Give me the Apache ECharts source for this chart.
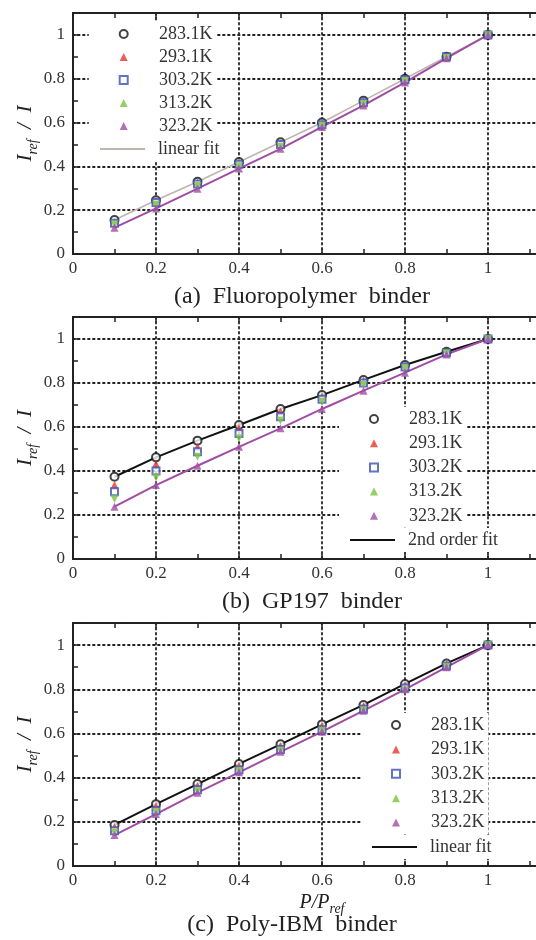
<!DOCTYPE html>
<html><head><meta charset="utf-8">
<script src="https://cdn.jsdelivr.net/npm/echarts@6/dist/echarts.min.js"></script>
<style>html,body{margin:0;padding:0;background:#fff}#c{width:536px;height:940px}</style>
</head><body><div id="c"></div>
<script>
// ---- data ----
const pressureRatio = [0.1, 0.2, 0.3, 0.4, 0.5, 0.6, 0.7, 0.8, 0.9, 1.0];
const tempLabels = ['283.1K', '293.1K', '303.2K', '313.2K', '323.2K'];
const xTicks = [0, 0.2, 0.4, 0.6, 0.8, 1];
const yTicks = [0, 0.2, 0.4, 0.6, 0.8, 1];

// (a) Fluoropolymer binder
const a283 = [0.155, 0.245, 0.330, 0.420, 0.510, 0.600, 0.700, 0.800, 0.900, 1.0];
const a293 = [0.145, 0.240, 0.325, 0.415, 0.505, 0.595, 0.695, 0.795, 0.900, 1.0];
const a303 = [0.140, 0.235, 0.320, 0.410, 0.500, 0.590, 0.690, 0.795, 0.900, 1.0];
const a313 = [0.135, 0.225, 0.310, 0.400, 0.490, 0.585, 0.685, 0.790, 0.895, 1.0];
const a323 = [0.120, 0.208, 0.298, 0.390, 0.480, 0.580, 0.678, 0.783, 0.894, 1.0];
const aFitUpper = [0.155, 0.245, 0.330, 0.420, 0.510, 0.600, 0.700, 0.800, 0.900, 1.0];
const aFitLower = [0.120, 0.208, 0.298, 0.390, 0.480, 0.580, 0.678, 0.783, 0.894, 1.0];

// (b) GP197 binder
const b283 = [0.374, 0.462, 0.538, 0.609, 0.682, 0.745, 0.814, 0.882, 0.942, 1.0];
const b293 = [0.336, 0.432, 0.510, 0.594, 0.670, 0.738, 0.810, 0.877, 0.940, 1.0];
const b303 = [0.306, 0.400, 0.488, 0.571, 0.647, 0.726, 0.800, 0.873, 0.938, 1.0];
const b313 = [0.273, 0.371, 0.465, 0.549, 0.629, 0.715, 0.791, 0.866, 0.935, 1.0];
const b323 = [0.238, 0.336, 0.424, 0.510, 0.594, 0.682, 0.765, 0.847, 0.930, 1.0];
const bFitUpper = [0.374, 0.462, 0.538, 0.609, 0.682, 0.745, 0.814, 0.882, 0.942, 1.0];
const bFitLower = [0.238, 0.336, 0.424, 0.510, 0.594, 0.682, 0.765, 0.847, 0.930, 1.0];

// (c) Poly-IBM binder
const c283 = [0.186, 0.280, 0.371, 0.462, 0.551, 0.641, 0.729, 0.824, 0.917, 1.0];
const c293 = [0.176, 0.270, 0.362, 0.453, 0.543, 0.634, 0.724, 0.818, 0.913, 1.0];
const c303 = [0.160, 0.250, 0.345, 0.435, 0.527, 0.617, 0.710, 0.806, 0.905, 1.0];
const c313 = [0.150, 0.243, 0.338, 0.430, 0.522, 0.612, 0.705, 0.795, 0.902, 1.0];
const c323 = [0.140, 0.235, 0.332, 0.424, 0.517, 0.608, 0.703, 0.800, 0.900, 1.0];
const cFitUpper = [0.186, 0.280, 0.371, 0.462, 0.551, 0.641, 0.729, 0.824, 0.917, 1.0];
const cFitLower = [0.140, 0.235, 0.332, 0.424, 0.517, 0.608, 0.703, 0.800, 0.900, 1.0];

const captions = ['(a)  Fluoropolymer  binder', '(b)  GP197  binder', '(c)  Poly-IBM  binder'];
const fitNames = ['linear fit', '2nd order fit', 'linear fit\u200b'];

// ---- styles ----
const FONT = '"Liberation Serif", "Times New Roman", serif';
const markerStyles = [
  { symbol: 'emptyCircle', color: '#111111', rotate: 0, size: 8 },
  { symbol: 'triangle', color: '#e8372c', rotate: 0, size: 8 },
  { symbol: 'emptyRect', color: '#3d4fb5', rotate: 0, size: 7 },
  { symbol: 'triangle', color: '#7cc242', rotate: 180, size: 8 },
  { symbol: 'triangle', color: '#a24ea6', rotate: 0, size: 8 }
];
const upperFitColors = ['#bdb5ae', '#111111', '#111111'];
const lowerFitColor = '#a04ca4';

const panels = [
  { temps: [a283, a293, a303, a313, a323], fitU: aFitUpper, fitL: aFitLower },
  { temps: [b283, b293, b303, b313, b323], fitU: bFitUpper, fitL: bFitLower },
  { temps: [c283, c293, c303, c313, c323], fitU: cFitUpper, fitL: cFitLower }
];

const grids = [
  { left: 73, top: 13, width: 498, height: 241 },
  { left: 73, top: 317, width: 498, height: 242 },
  { left: 73, top: 623, width: 498, height: 243 }
].map(g => Object.assign(g, { show: true, borderColor: '#222', borderWidth: 2, backgroundColor: 'transparent',
  containLabel: false, outerBoundsMode: 'none' }));

const dotted = { type: [1.6, 3.4], color: '#222', width: 1.8, cap: 'round' };
const xAxes = [], yAxes = [], series = [];
grids.forEach((g, i) => {
  const xBottom = {
    type: 'value', gridIndex: i, min: 0, max: 1.2, interval: 0.2,
    axisLine: { show: true, lineStyle: { color: '#222', width: 2 } },
    axisTick: { show: true, inside: true, length: 5, lineStyle: { color: '#222', width: 1.5 } },
    minorTick: { show: true, splitNumber: 2, length: 5, lineStyle: { color: '#222', width: 1.5 } },
    axisLabel: { show: true, margin: 6, fontFamily: FONT, fontSize: 17, color: '#333',
      formatter: v => xTicks.some(t => Math.abs(t - v) < 1e-6) ? String(+v.toFixed(1)) : '' },
    splitLine: { show: true, lineStyle: dotted }
  };
  if (i === 2) {
    Object.assign(xBottom, {
      name: '{i|P/P}{s|ref}', nameLocation: 'middle', nameGap: 23, nameMoveOverlap: false,
      nameTextStyle: { fontFamily: FONT, rich: {
        i: { fontFamily: FONT, fontStyle: 'italic', fontSize: 20, color: '#222', lineHeight: 22, verticalAlign: 'middle' },
        s: { fontFamily: FONT, fontStyle: 'italic', fontSize: 14, color: '#222', lineHeight: 27, verticalAlign: 'bottom' } } }
    });
  }
  xAxes.push(xBottom);
  xAxes.push({
    type: 'value', gridIndex: i, min: 0, max: 1.2, interval: 0.2, position: 'top',
    axisLine: { show: false }, axisLabel: { show: false }, splitLine: { show: false },
    axisTick: { show: true, inside: true, length: 5, lineStyle: { color: '#222', width: 1.5 } },
    minorTick: { show: true, splitNumber: 2, length: 5, lineStyle: { color: '#222', width: 1.5 } }
  });
  yAxes.push({
    type: 'value', gridIndex: i, min: 0, max: 1.1, interval: 0.2,
    axisLine: { show: true, lineStyle: { color: '#222', width: 2 } },
    axisTick: { show: true, inside: true, length: 5, lineStyle: { color: '#222', width: 1.5 } },
    minorTick: { show: true, splitNumber: 2, length: 5, lineStyle: { color: '#222', width: 1.5 } },
    axisLabel: { show: true, margin: 8, fontFamily: FONT, fontSize: 17, color: '#333', showMaxLabel: false,
      formatter: v => yTicks.some(t => Math.abs(t - v) < 1e-6) ? String(+v.toFixed(1)) : '' },
    splitLine: { show: true, lineStyle: dotted },
    name: '{i|I}{s|ref}{i|  /  I}', nameLocation: 'middle', nameRotate: 90, nameGap: 33, nameMoveOverlap: false,
    nameTextStyle: { fontFamily: FONT, rich: {
      i: { fontFamily: FONT, fontStyle: 'italic', fontSize: 21, color: '#222', lineHeight: 24, verticalAlign: 'middle' },
      s: { fontFamily: FONT, fontStyle: 'italic', fontSize: 14, color: '#222', lineHeight: 30, verticalAlign: 'bottom' } } }
  });
});

panels.forEach((p, i) => {
  // fit lines
  series.push({
    type: 'line', name: fitNames[i], xAxisIndex: i * 2, yAxisIndex: i,
    data: pressureRatio.map((x, k) => [x, p.fitU[k]]), symbol: 'none', z: 2,
    lineStyle: { color: upperFitColors[i], width: i === 0 ? 1.6 : 2 }, itemStyle: { color: upperFitColors[i] }
  });
  series.push({
    type: 'line', name: 'lowerfit' + i, xAxisIndex: i * 2, yAxisIndex: i,
    data: pressureRatio.map((x, k) => [x, p.fitL[k]]), symbol: 'none', z: 2,
    lineStyle: { color: lowerFitColor, width: 2 }, itemStyle: { color: lowerFitColor }
  });
  // scatter points
  p.temps.forEach((vals, t) => {
    const m = markerStyles[t];
    series.push({
      type: 'scatter', name: tempLabels[t], xAxisIndex: i * 2, yAxisIndex: i,
      data: pressureRatio.map((x, k) => [x, vals[k]]),
      symbol: m.symbol, symbolSize: m.size, symbolRotate: m.rotate, z: 3 + t,
      itemStyle: { color: m.color, borderColor: m.color, borderWidth: m.symbol.startsWith('empty') ? 1.6 : 0 }
    });
  });
});

// legend layout: marker centre x, first row centre y, row spacing, fit-line icon left x, text x
const legendPos = [
  { mx: 122.7, y0: 34, dy: 23, lx: 100, tx: 158 },
  { mx: 373, y0: 419, dy: 24.2, lx: 350, tx: 408 },
  { mx: 395, y0: 725, dy: 24.4, lx: 372, tx: 430 }
];
const LH = 18;
const legends = [];
legendPos.forEach((lp, i) => {
  const iconLeft = lp.mx - 4;
  legends.push({
    show: true, orient: 'vertical', left: iconLeft - 30, top: lp.y0 - LH / 2 - 3,
    padding: [3, 4, 3, 30], itemGap: lp.dy - LH, itemWidth: 8, itemHeight: 8,
    backgroundColor: '#fff', selectedMode: false,
    textStyle: { fontFamily: FONT, fontSize: 18, color: '#333', lineHeight: LH, padding: [0, 0, 0, lp.tx - (iconLeft + 8 + 5)] },
    data: tempLabels.map(n => ({ name: n }))
  });
  legends.push({
    show: true, orient: 'vertical', left: lp.lx - 4, top: lp.y0 + 5 * lp.dy - LH / 2 - 3,
    padding: [3, 4, 3, 4], itemWidth: 45, itemHeight: 2,
    backgroundColor: '#fff', selectedMode: false,
    textStyle: { fontFamily: FONT, fontSize: 18, color: '#333', lineHeight: LH, padding: [0, 0, 0, lp.tx - (lp.lx + 45 + 5)] },
    data: [{ name: fitNames[i], icon: 'rect' }]
  });
});

const captionPos = [[302, 297], [312, 602], [292, 925]];
const graphics = captions.map((t, i) => ({
  type: 'text', x: captionPos[i][0], y: captionPos[i][1],
  style: { text: t, font: '24px ' + FONT, fill: '#222', align: 'center', verticalAlign: 'middle' }
}));

const chart = echarts.init(document.getElementById('c'), null, { renderer: 'canvas' });
chart.setOption({
  backgroundColor: '#fff', animation: false,
  grid: grids, xAxis: xAxes, yAxis: yAxes, series: series, legend: legends, graphic: graphics
});
</script></body></html>
